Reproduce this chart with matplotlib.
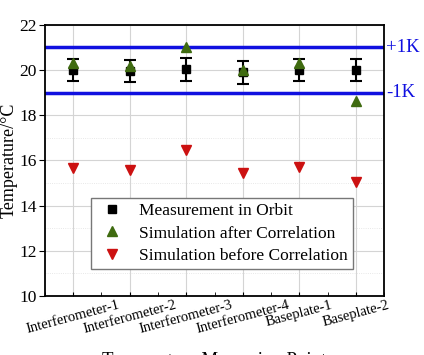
import matplotlib.pyplot as plt
from matplotlib.lines import Line2D
from matplotlib.ticker import MultipleLocator

plt.rcParams["font.family"] = ["Liberation Serif", "DejaVu Serif"]

points = ["Interferometer-1", "Interferometer-2", "Interferometer-3",
          "Interferometer-4", "Baseplate-1", "Baseplate-2"]
measured = [20.0, 19.95, 20.03, 19.9, 20.0, 20.0]
measured_err = [0.5, 0.5, 0.5, 0.5, 0.5, 0.5]
sim_after = [20.33, 20.2, 21.04, 20.0, 20.33, 18.65]
sim_before = [15.67, 15.6, 16.47, 15.45, 15.7, 15.05]
upper_limit = 21.0
lower_limit = 19.0

BLUE = "#1010e0"
GREEN = "#3f6b10"
RED = "#cc1111"

fig = plt.figure(figsize=(4.24, 3.55), dpi=100)
ax = fig.add_axes([0.106, 0.166, 0.8, 0.764])

x = list(range(len(points)))

ax.axhline(upper_limit, color=BLUE, lw=2.5, zorder=2)
ax.axhline(lower_limit, color=BLUE, lw=2.5, zorder=2)

ax.errorbar(x, measured, yerr=measured_err, fmt="s", color="black",
            ms=6, capsize=4, elinewidth=1.5, capthick=1.5, zorder=4)
ax.plot(x, sim_after, "^", color=GREEN, ms=7.5, zorder=5)
ax.plot(x, sim_before, "v", color=RED, ms=7.5, zorder=5)

ax.set_xlim(-0.5, len(points) - 0.5)
ax.set_ylim(10, 22)
ax.set_xticks(x)
ax.set_xticklabels(points, rotation=15, ha="center", fontsize=10.5)
ax.xaxis.set_minor_locator(MultipleLocator(0.5))
ax.yaxis.set_major_locator(MultipleLocator(2))
ax.yaxis.set_minor_locator(MultipleLocator(1))
ax.tick_params(axis="y", which="major", direction="out", labelsize=12.5, length=4, pad=2)
ax.tick_params(axis="y", which="minor", length=0)
ax.tick_params(axis="x", which="both", direction="in", length=3, pad=2)

ax.grid(True, which="major", color="#d4d4d4", lw=0.8, zorder=0)
ax.grid(True, which="minor", axis="y", color="#e0e0e0", lw=0.6, ls=":", zorder=0)
ax.set_axisbelow(True)
for s in ax.spines.values():
    s.set_linewidth(1.3)

ax.text(1.005, upper_limit, "+1K", transform=ax.get_yaxis_transform(),
        color=BLUE, fontsize=13.5, va="center", ha="left")
ax.text(1.005, lower_limit, "-1K", transform=ax.get_yaxis_transform(),
        color=BLUE, fontsize=13.5, va="center", ha="left")

ax.set_ylabel("Temperature/\u00b0C", fontsize=13, labelpad=1)
ax.set_xlabel("Temperature Measuring Point", fontsize=13.5, labelpad=11)

handles = [
    Line2D([], [], marker="s", color="black", ls="none", ms=6),
    Line2D([], [], marker="^", color=GREEN, ls="none", ms=7.5),
    Line2D([], [], marker="v", color=RED, ls="none", ms=7.5),
]
labels = ["Measurement in Orbit", "Simulation after Correlation",
          "Simulation before Correlation"]
ax.legend(handles, labels, loc="lower center", bbox_to_anchor=(0.522, 0.10),
          fontsize=12.5, frameon=True, fancybox=False, edgecolor="#777777",
          handletextpad=0.7, borderpad=0.3, labelspacing=0.35,
          handlelength=1.8, borderaxespad=0, framealpha=1)

fig.savefig("out.png", dpi=100)
